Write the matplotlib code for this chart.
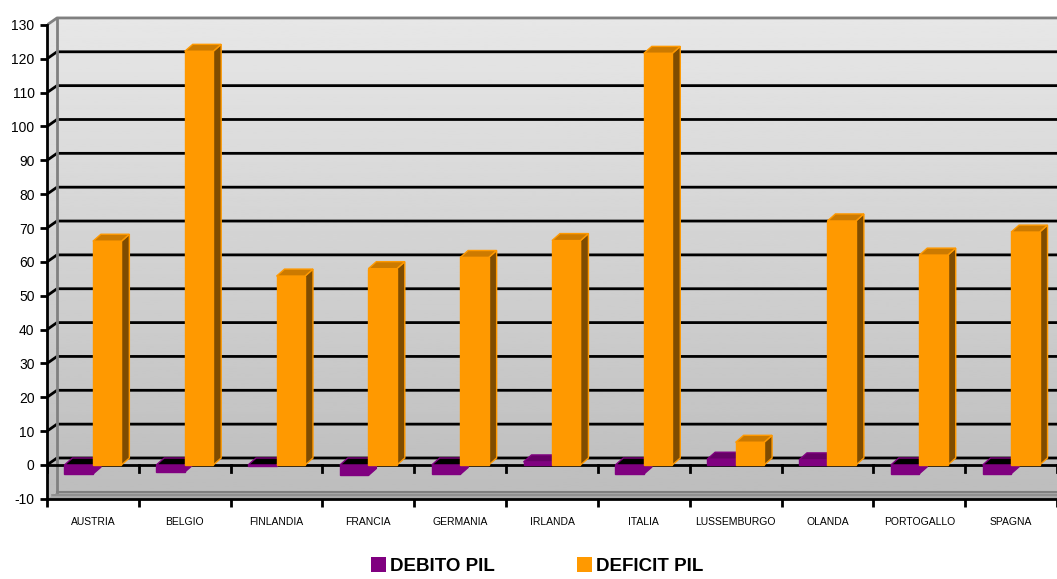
import numpy as np
import matplotlib
matplotlib.use('Agg')
import matplotlib.pyplot as plt
from matplotlib.patches import Polygon, Patch

plt.rcParams['font.family'] = ['Liberation Sans', 'DejaVu Sans']

# === DATA ===
paesi = ["AUSTRIA", "BELGIO", "FINLANDIA", "FRANCIA", "GERMANIA", "IRLANDA",
         "ITALIA", "LUSSEMBURGO", "OLANDA", "PORTOGALLO", "SPAGNA"]
debito_pil = [-2.7, -2.1, -0.4, -3.1, -2.8, 0.9, -2.7, 1.7, 1.5, -2.6, -2.6]
deficit_pil = [66.1, 122.2, 55.8, 58.0, 61.3, 66.3, 121.6, 6.7, 72.1, 62.0, 68.8]
y_ticks = list(range(-10, 140, 10))

# === STYLE ===
purple = {"face": "#800080", "top": "#660066", "side": "#4d004d", "cap": "#000000"}
orange = {"face": "#FF9900", "top": "#CC7A00", "side": "#7F4C00", "cap": "#000000"}
bar_w = 0.31
wall_dx, wall_dy = 0.109, 2.07   # depth offset of the back wall
bar_dx, bar_dy = 0.087, 2.07     # depth offset of each column
ymin, ymax = -10, 130

fig = plt.figure(figsize=(10.57, 5.79), dpi=100)
ax = fig.add_axes([47 / 1057, 0.13843, 1 - 47 / 1057, 0.83603])
ax.set_xlim(-0.5, len(paesi) - 0.5)
ax.set_ylim(ymin, 133)
ax.patch.set_visible(False)

x_left = -0.5
x_right = len(paesi) - 0.5

# back wall + side wall with a vertical gradient
wall = Polygon([(x_left, ymin), (x_left, ymax), (x_left + wall_dx, ymax + wall_dy),
                (x_right + wall_dx, ymax + wall_dy), (x_right + wall_dx, ymin + wall_dy),
                (x_left + wall_dx, ymin + wall_dy)], closed=True, facecolor='none',
               edgecolor='none')
ax.add_patch(wall)
grad = np.linspace(0.74, 0.905, 256).reshape(-1, 1)
img = ax.imshow(grad, cmap='gray', vmin=0, vmax=1, aspect='auto', origin='lower',
                extent=(x_left, x_right + wall_dx, ymin, ymax + wall_dy), zorder=0)
img.set_clip_path(wall)

# floor at the bottom of the scale
floor = Polygon([(x_left, ymin), (x_left + wall_dx, ymin + wall_dy),
                 (x_right + wall_dx, ymin + wall_dy), (x_right, ymin)],
                closed=True, facecolor='#a8a8a8', edgecolor='none', zorder=1)
ax.add_patch(floor)
ax.plot([x_left + wall_dx, x_right + wall_dx], [ymin + wall_dy, ymin + wall_dy],
        color='#7f7f7f', lw=1.5, zorder=1)
ax.plot([x_left + wall_dx / 2, x_right + wall_dx], [ymin + wall_dy / 2, ymin + wall_dy / 2],
        color='#8c8c8c', lw=1.2, zorder=1)

# gridlines on the back wall with their diagonals on the side wall
for v in y_ticks[1:]:
    c = '#808080' if v == ymax else 'black'
    ax.plot([x_left, x_left + wall_dx, x_right + wall_dx], [v, v + wall_dy, v + wall_dy],
            color=c, lw=2, zorder=2, solid_capstyle='butt')
ax.plot([x_left + wall_dx, x_left + wall_dx], [ymin + wall_dy, ymax + wall_dy],
        color='#808080', lw=2, zorder=2)

# front edge of the zero plane and its category ticks
ax.plot([x_left, x_right], [0, 0], color='black', lw=2, zorder=3)
for b in np.arange(x_left, x_right + 0.01, 1.0):
    ax.plot([b, b], [0, -2.1], color='black', lw=2, zorder=3)


def draw_column(x0, v, col):
    x1 = x0 + bar_w
    if v >= 0:
        side = [(x1, 0), (x1 + bar_dx, bar_dy), (x1 + bar_dx, v + bar_dy), (x1, v)]
        top = [(x0, v), (x1, v), (x1 + bar_dx, v + bar_dy), (x0 + bar_dx, v + bar_dy)]
        ax.add_patch(Polygon(side, closed=True, facecolor=col["side"],
                             edgecolor=col["face"], lw=1, zorder=4))
        ax.add_patch(Polygon(top, closed=True, facecolor=col["top"],
                             edgecolor=col["face"], lw=1, zorder=4))
    else:
        side = [(x1, v), (x1 + bar_dx, v + bar_dy), (x1 + bar_dx, bar_dy), (x1, 0)]
        cap = [(x0, 0), (x1, 0), (x1 + bar_dx, bar_dy), (x0 + bar_dx, bar_dy)]
        ax.add_patch(Polygon(side, closed=True, facecolor=col["face"],
                             edgecolor=col["face"], lw=1, zorder=4))
        ax.add_patch(Polygon(cap, closed=True, facecolor=col["cap"],
                             edgecolor=col["face"], lw=1, zorder=4))
    front = [(x0, 0), (x1, 0), (x1, v), (x0, v)]
    ax.add_patch(Polygon(front, closed=True, facecolor=col["face"],
                         edgecolor=col["face"], lw=1, zorder=5))


for i in range(len(paesi)):
    draw_column(i - bar_w, debito_pil[i], purple)
    draw_column(i, deficit_pil[i], orange)

# axes
for s in ['top', 'right']:
    ax.spines[s].set_visible(False)
ax.spines['left'].set_bounds(ymin, ymax)
ax.spines['left'].set_linewidth(2)
ax.spines['bottom'].set_linewidth(2)
ax.spines['left'].set_zorder(6)
ax.spines['bottom'].set_zorder(6)

ax.set_yticks(y_ticks)
ax.set_yticklabels([str(t) for t in y_ticks], fontsize=10)
ax.tick_params(axis='y', direction='out', length=5, width=2, pad=4)

ax.set_xticks(range(len(paesi)))
ax.set_xticklabels(paesi, fontsize=7.5)
ax.set_xticks(np.arange(x_left, x_right + 0.01, 1.0), minor=True)
ax.tick_params(axis='x', which='major', length=0, pad=13)
ax.tick_params(axis='x', which='minor', direction='out', length=6, width=2)

handles = [Patch(facecolor=purple["face"]), Patch(facecolor=orange["face"])]
fig.legend(handles, ["DEBITO PIL", "DEFICIT PIL"], ncol=2, frameon=False,
           loc='center', bbox_to_anchor=(0.508, 1 - 566 / 579),
           prop={'weight': 'bold', 'size': 13.5}, handlelength=0.8, handleheight=0.8,
           handletextpad=0.2, columnspacing=4.4)

plt.savefig('out.png', dpi=100)
